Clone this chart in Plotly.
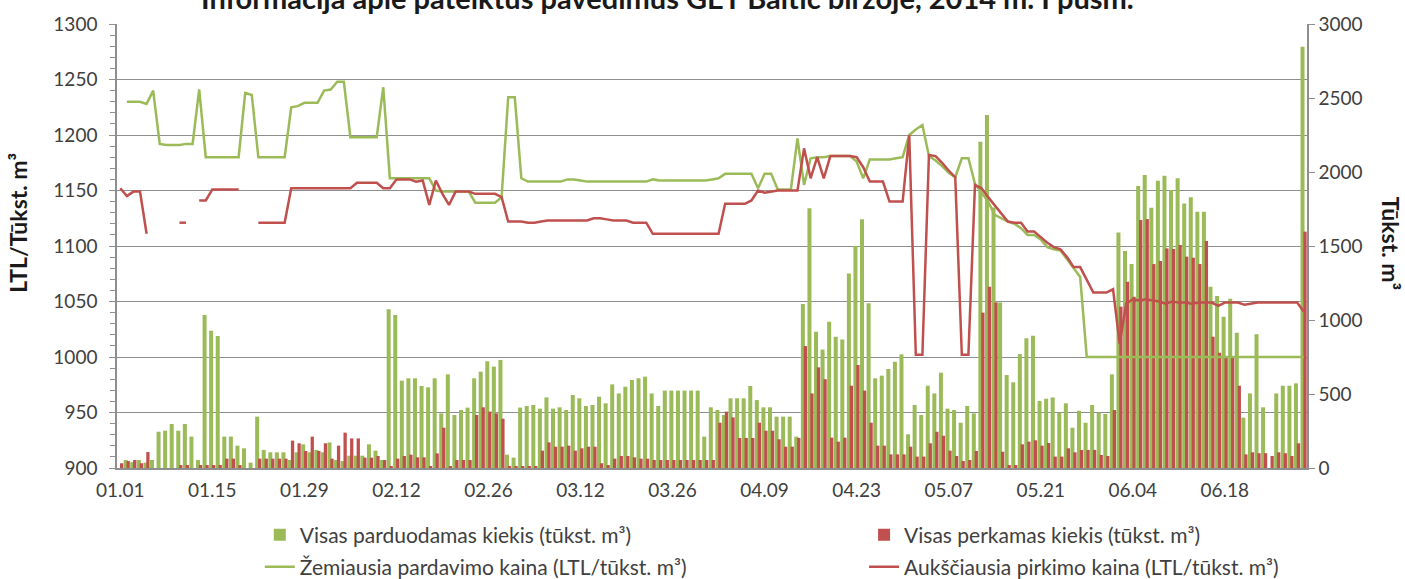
import pandas as pd
import plotly.graph_objects as go

# ---------------- data ----------------
dates = pd.date_range("2014-01-01", "2014-06-30", freq="D")

tick_labels = ["01.01", "01.15", "01.29", "02.12", "02.26", "03.12", "03.26",
               "04.09", "04.23", "05.07", "05.21", "06.04", "06.18"]

# Visas parduodamas kiekis (tūkst. m3) - green bars
sell_volume = [
    None, 54, 40, 54, 36, 54, 245, 252, 297, 252,
    297, 212, 54, 1034, 928, 892, 212, 212, 151, 133,
    36, 347, 122, 106, 106, 106, 54, 106, 160, 106,
    122, 106, 173, 54, 47, 83, 83, 83, 160, 117,
    54, 1072, 1034, 590, 606, 606, 554, 545, 606, 369,
    633, 358, 392, 408, 606, 651, 721, 685, 730, 90,
    70, 408, 419, 426, 401, 477, 401, 410, 392, 493,
    471, 419, 426, 482, 437, 565, 504, 549, 595, 606,
    617, 504, 419, 523, 523, 523, 523, 523, 523, 212,
    410, 392, 358, 471, 471, 471, 554, 459, 410, 410,
    347, 347, 347, 212, 1108, 1755, 920, 800, 989, 887,
    869, 1315, 1500, 1680, 1113, 606, 624, 669, 718, 768,
    228, 426, 358, 556, 504, 644, 401, 392, 306, 419,
    369, 2205, 2385, 1760, 1118, 628, 579, 770, 876, 894,
    453, 468, 477, 374, 437, 272, 387, 306, 426, 374,
    365, 633, 1592, 1466, 1378, 1905, 1980, 1759, 1941, 1975,
    1878, 1957, 1788, 1829, 1732, 1732, 1225, 1162, 1022, 1144,
    914, 340, 504, 903, 410, None, 504, 556, 556, 572,
    2847,
]

# Visas perkamas kiekis (tūkst. m3) - red bars
buy_volume = [
    32, 47, 54, 32, 108, None, None, None, None, 20,
    20, None, 20, 20, 20, 20, 63, 63, 20, None,
    None, 63, 63, 63, 63, 63, 185, 167, 115, 212,
    115, 167, 63, 151, 239, 200, 200, 70, 70, 81,
    54, 10, 63, 81, 90, 72, 72, 10, 99, 272,
    10, 54, 54, 54, 358, 410, 381, 369, 333, 10,
    10, 10, 10, 10, 117, 173, 144, 144, 151, 117,
    133, 144, 144, 32, 20, 63, 81, 81, 72, 63,
    63, 54, 54, 54, 54, 54, 54, 54, 54, 54,
    54, 306, 381, 342, 203, 203, 203, 306, 252, 252,
    194, 144, 144, 203, 824, 504, 680, 600, 205, 178,
    205, 556, 696, 523, 306, 151, 151, 92, 92, 92,
    144, 77, 77, 167, 245, 218, 117, 81, 47, 54,
    115, 1050, 1225, 1119, 110, 20, 20, 160, 178, 187,
    151, 169, 77, 77, 133, 106, 122, 122, 122, 88,
    81, 392, 1090, 1259, 1157, 1676, 1682, 1378, 1399, 1484,
    1480, 1507, 1428, 1421, 1378, 1534, 887, 779, 752, 752,
    556, 92, 106, 100, 100, 81, 106, 100, 81, 167,
    1597,
]

# Žemiausia pardavimo kaina (LTL/tūkst. m3) - green line
sell_price = [
    None, 1230, 1230, 1230, 1228, 1240, 1192, 1191, 1191, 1191,
    1192, 1192, 1241, 1180, 1180, 1180, 1180, 1180, 1180, 1238,
    1236, 1180, 1180, 1180, 1180, 1180, 1225, 1226, 1229, 1229,
    1229, 1240, 1241, 1248, 1248, 1198, 1198, 1198, 1198, 1198,
    1243, 1161, 1161, 1161, 1161, 1161, 1161, 1161, 1150, 1149,
    1149, 1149, 1149, 1149, 1139, 1139, 1139, 1139, 1144, 1234,
    1234, 1161, 1158, 1158, 1158, 1158, 1158, 1158, 1160, 1160,
    1159, 1158, 1158, 1158, 1158, 1158, 1158, 1158, 1158, 1158,
    1158, 1160, 1159, 1159, 1159, 1159, 1159, 1159, 1159, 1159,
    1160, 1161, 1165, 1165, 1165, 1165, 1165, 1152, 1165, 1165,
    1151, 1151, 1151, 1197, 1155, 1179, 1180, 1180, 1181, 1181,
    1181, 1181, 1176, 1161, 1178, 1178, 1178, 1178, 1179, 1180,
    1200, 1205, 1209, 1181, 1177, 1172, 1166, 1162, 1179, 1179,
    1156, 1148, 1140, 1128, 1125, 1122, 1120, 1116, 1110, 1110,
    1106, 1099, 1097, 1096, 1088, 1080, 1072, 1000, 1000, 1000,
    1000, 1000, 1000, 1000, 1000, 1000, 1000, 1000, 1000, 1000,
    1000, 1000, 1000, 1000, 1000, 1000, 1000, 1000, 1000, 1000,
    1000, 1000, 1000, 1000, 1000, 1000, 1000, 1000, 1000, 1000,
    1000,
]

# Aukščiausia pirkimo kaina (LTL/tūkst. m3) - red line
buy_price = [
    1152, 1145, 1149, 1149, 1111, None, None, None, None, 1121,
    1121, None, 1141, 1141, 1151, 1151, 1151, 1151, 1151, None,
    None, 1121, 1121, 1121, 1121, 1121, 1152, 1152, 1152, 1152,
    1152, 1152, 1152, 1152, 1152, 1152, 1157, 1157, 1157, 1157,
    1152, 1152, 1160, 1160, 1160, 1158, 1159, 1137, 1159, 1147,
    1137, 1149, 1149, 1149, 1147, 1147, 1147, 1147, 1144, 1122,
    1122, 1122, 1121, 1121, 1122, 1123, 1123, 1123, 1123, 1123,
    1123, 1123, 1125, 1125, 1124, 1123, 1123, 1123, 1121, 1121,
    1121, 1111, 1111, 1111, 1111, 1111, 1111, 1111, 1111, 1111,
    1111, 1111, 1138, 1138, 1138, 1138, 1141, 1150, 1148, 1149,
    1150, 1150, 1150, 1150, 1188, 1161, 1180, 1161, 1181, 1181,
    1181, 1181, 1180, 1171, 1158, 1158, 1158, 1140, 1140, 1140,
    1200, 1002, 1002, 1182, 1181, 1175, 1168, 1162, 1002, 1002,
    1155, 1152, 1144, 1137, 1130, 1122, 1121, 1121, 1113, 1113,
    1108, 1103, 1099, 1097, 1090, 1081, 1081, 1070, 1058, 1058,
    1058, 1061, 1012, 1048, 1052, 1051, 1052, 1051, 1050, 1048,
    1050, 1049, 1049, 1048, 1049, 1049, 1049, 1046, 1049, 1049,
    1049, 1047, 1048, 1049, 1049, 1049, 1049, 1049, 1049, 1049,
    1041,
]

names = [
    "Visas parduodamas kiekis (tūkst. m³)",
    "Visas perkamas kiekis (tūkst. m³)",
    "Žemiausia pardavimo kaina (LTL/tūkst. m³)",
    "Aukščiausia pirkimo kaina (LTL/tūkst. m³)",
]
title_text = "Informacija apie pateiktus pavedimus GET Baltic biržoje, 2014 m. I pusm."

# ---------------- style ----------------
GREEN = "#9BBB59"
RED = "#C0504D"
GRID = "#8e8e8e"
TXT = "#404040"
FONT = "Lato"
DAY = 86400000

fig = go.Figure()
fig.add_trace(go.Bar(x=dates, y=sell_volume, name=names[0], marker_color=GREEN,
                     marker_line_width=0,
                     width=0.61 * DAY, offset=-0.485 * DAY, yaxis="y", legend="legend"))
fig.add_trace(go.Bar(x=dates, y=buy_volume, name=names[1], marker_color=RED,
                     marker_line_width=0,
                     width=0.5 * DAY, offset=-0.05 * DAY, yaxis="y", legend="legend2"))
fig.add_trace(go.Scatter(x=dates, y=sell_price, name=names[2], mode="lines",
                         line=dict(color=GREEN, width=2.5), yaxis="y2",
                         connectgaps=False, legend="legend3"))
fig.add_trace(go.Scatter(x=dates, y=buy_price, name=names[3], mode="lines",
                         line=dict(color=RED, width=2.5), yaxis="y2",
                         connectgaps=False, legend="legend4"))

tick_vals = list(dates[::14][: len(tick_labels)])

def legend_at(x, y):
    return dict(orientation="h", x=x, y=y, xanchor="left", yanchor="middle",
                font=dict(family=FONT, size=21, color=TXT),
                bgcolor="rgba(0,0,0,0)", borderwidth=0)

fig.update_layout(
    template="none",
    width=1405, height=579,
    margin=dict(l=117, r=98, t=24, b=111, autoexpand=False),
    paper_bgcolor="white", plot_bgcolor="white",
    barmode="overlay",
    font=dict(family=FONT, color=TXT),
    title=dict(text="<b>" + title_text + "</b>", x=0.475, xanchor="center",
               y=1 - 9 / 579, yanchor="bottom", yref="container",
               font=dict(family=FONT, size=29, color="#1a1a1a")),
    xaxis=dict(type="date", range=["2013-12-31 12:00", "2014-06-30 12:00"],
               tickvals=tick_vals, ticktext=tick_labels, ticks="",
               showgrid=False, showline=True, linecolor=GRID, linewidth=1.5,
               zeroline=False, automargin=False, ticklabelstandoff=4,
               tickfont=dict(family=FONT, size=19, color=TXT)),
    yaxis=dict(side="right", range=[0, 3000], dtick=500, showgrid=False,
               showline=True, linecolor=GRID, linewidth=1.5, ticks="outside",
               ticklen=6, tickcolor=GRID, zeroline=False, automargin=False,
               tickfont=dict(family=FONT, size=19, color=TXT)),
    yaxis2=dict(overlaying="y", side="left", range=[900, 1300], dtick=50,
                showgrid=True, gridcolor=GRID, gridwidth=1.2,
                showline=True, linecolor=GRID, linewidth=1.5, ticks="outside",
                ticklen=6, tickcolor=GRID, zeroline=False, automargin=False,
                ticklabelstandoff=8,
                minor=dict(dtick=10, ticks="outside", ticklen=5, tickcolor=GRID, showgrid=False),
                tickfont=dict(family=FONT, size=19, color=TXT)),
    legend=legend_at(0.1200, -0.151),
    legend2=legend_at(0.6278, -0.151),
    legend3=legend_at(0.1200, -0.223),
    legend4=legend_at(0.6278, -0.223),
    showlegend=True,
)

fig.add_annotation(text="<b>LTL/Tūkst. m³</b>", textangle=-90, xref="paper", yref="paper",
                   x=(18 - 117.3) / 1189.4, y=(468 - 223) / 444, showarrow=False,
                   xanchor="center", yanchor="middle",
                   font=dict(family=FONT, size=23, color="#1a1a1a"))
fig.add_annotation(text="<b>Tūkst. m³</b>", textangle=90, xref="paper", yref="paper",
                   x=(1391 - 117.3) / 1189.4, y=(468 - 244) / 444, showarrow=False,
                   xanchor="center", yanchor="middle",
                   font=dict(family=FONT, size=23, color="#1a1a1a"))

fig.write_html("out.html", config={"displayModeBar": False},
               post_script="document.body.style.margin='0';document.body.style.overflow='hidden';")
